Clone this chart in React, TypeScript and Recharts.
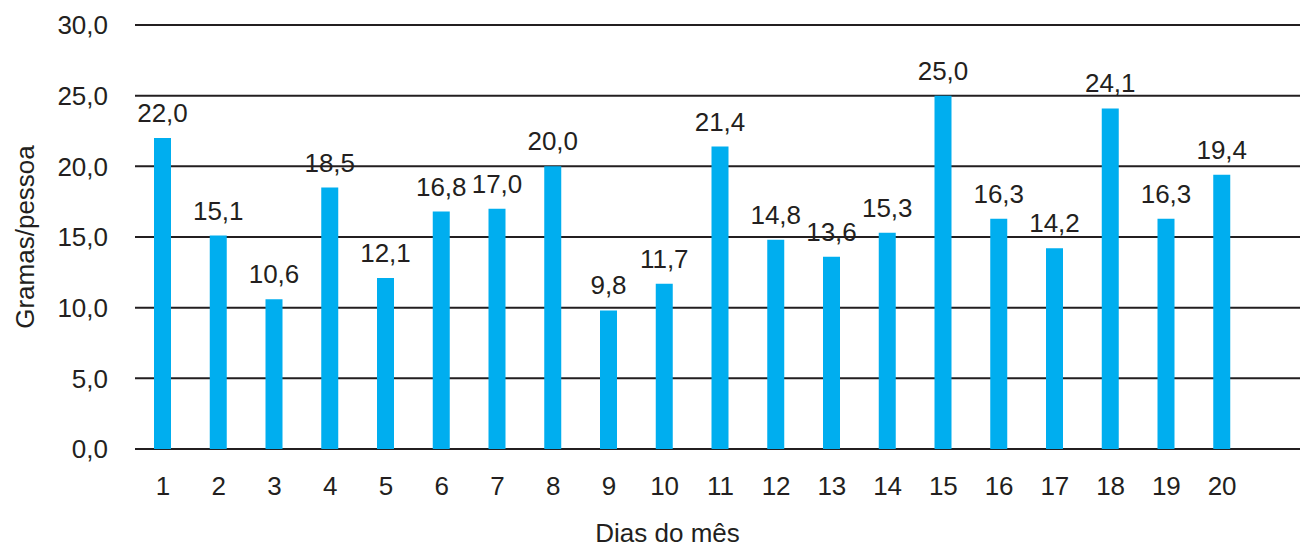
import React from 'react';
import { BarChart, Bar, XAxis, YAxis, CartesianGrid, LabelList } from 'recharts';

const days = ['1', '2', '3', '4', '5', '6', '7', '8', '9', '10', '11', '12', '13', '14', '15', '16', '17', '18', '19', '20'];
const gramas = [22.0, 15.1, 10.6, 18.5, 12.1, 16.8, 17.0, 20.0, 9.8, 11.7, 21.4, 14.8, 13.6, 15.3, 25.0, 16.3, 14.2, 24.1, 16.3, 19.4];
const yTicks = [0, 5, 10, 15, 20, 25, 30];

const data = days.map((d, i) => ({ dia: d, valor: gramas[i] }));

const ink = '#231f20';
const font = '"Liberation Sans", Arial, sans-serif';
const fmt = (v: number) => Number(v).toFixed(1).replace('.', ',');

export default function App() {
  return (
    <div style={{ position: 'absolute', left: 0, top: 0, background: '#fff', fontFamily: font }}>
      <BarChart
        width={1302}
        height={549}
        data={data}
        margin={{ top: 25, right: 2, bottom: 0, left: 0 }}
        barSize={17}
      >
        <CartesianGrid vertical={false} stroke={ink} strokeWidth={2} />
        <XAxis
          dataKey="dia"
          height={100}
          axisLine={false}
          tickLine={false}
          tickSize={0}
          tickMargin={28}
          padding={{ left: 0, right: 50 }}
          tick={{ fill: ink, fontSize: 26, fontFamily: font }}
          label={{
            value: 'Dias do mês',
            position: 'insideBottom',
            offset: 7,
            dx: -50,
            fill: ink,
            fontSize: 26,
            fontFamily: font,
          }}
        />
        <YAxis
          width={135}
          domain={[0, 30]}
          ticks={yTicks}
          axisLine={false}
          tickLine={false}
          tickSize={0}
          tickMargin={27}
          tickFormatter={fmt}
          tick={{ fill: ink, fontSize: 26, fontFamily: font }}
          label={{
            value: 'Gramas/pessoa',
            angle: -90,
            position: 'insideLeft',
            offset: 25,
            fill: ink,
            fontSize: 26,
            fontFamily: font,
            style: { textAnchor: 'middle' },
          }}
        />
        <Bar dataKey="valor" fill="#00aeef" isAnimationActive={false}>
          <LabelList
            dataKey="valor"
            position="top"
            offset={16}
            formatter={fmt}
            fill={ink}
            fontSize={26}
            fontFamily={font}
          />
        </Bar>
      </BarChart>
    </div>
  );
}
